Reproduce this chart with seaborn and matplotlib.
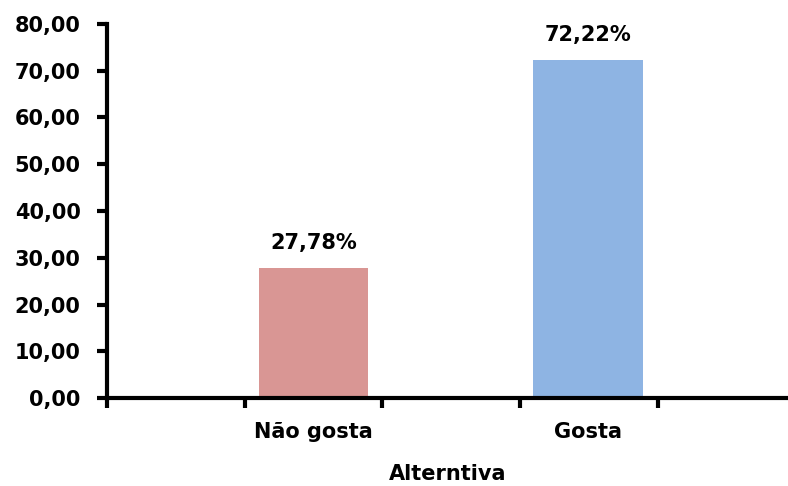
import matplotlib
matplotlib.use("Agg")
import matplotlib.pyplot as plt
import seaborn as sns
import pandas as pd

# Data.
categories = ["Não gosta", "Gosta"]
percentages = [27.78, 72.22]
bar_colors = ["#D99694", "#8EB4E3"]
y_ticks = [0, 10, 20, 30, 40, 50, 60, 70, 80]

sns.set_theme(style="white")
plt.rcParams["font.family"] = ["DejaVu Sans"]
plt.rcParams["font.weight"] = "bold"
plt.rcParams["text.color"] = "black"
plt.rcParams["axes.labelcolor"] = "black"
plt.rcParams["xtick.color"] = "black"
plt.rcParams["ytick.color"] = "black"

df = pd.DataFrame({"Alterntiva": categories, "valor": percentages})

fig = plt.figure(figsize=(7.88, 4.86), dpi=100)
ax = fig.add_axes([0.1358, 0.181, 0.8642, 0.7698])

sns.barplot(data=df, x="Alterntiva", y="valor", hue="Alterntiva",
            palette=bar_colors, order=categories, hue_order=categories,
            width=0.4, saturation=1, linewidth=0, legend=False, ax=ax)

# Value labels above bars.
for i, v in enumerate(percentages):
    ax.text(i, v + 3.3, f"{v:.2f}%".replace(".", ","), ha="center", va="bottom",
            fontsize=15, fontweight="bold", color="black")

ax.set_xlim(-0.753, 1.73)
ax.set_ylim(0, 80)
ax.set_yticks(y_ticks)
ax.set_yticklabels([f"{t:.2f}".replace(".", ",") for t in y_ticks],
                   fontsize=15, fontweight="bold")

# Category labels without marks; marks sit at slot boundaries.
ax.set_xticks([0, 1])
ax.set_xticklabels(categories, fontsize=15, fontweight="bold")
ax.set_xticks([-0.753, -0.25, 0.25, 0.753, 1.255], minor=True)
ax.tick_params(axis="x", which="major", bottom=True, length=0, pad=17)
ax.tick_params(axis="x", which="minor", bottom=True, length=7, width=3,
               direction="out", color="black")
ax.tick_params(axis="y", left=True, length=7, width=3, direction="out",
               color="black", pad=12)

ax.set_xlabel("Alterntiva", fontsize=15, fontweight="bold", labelpad=16)
ax.set_ylabel("")

for side in ["top", "right"]:
    ax.spines[side].set_visible(False)
for side in ["left", "bottom"]:
    ax.spines[side].set_linewidth(3)
    ax.spines[side].set_color("black")
ax.spines["left"].set_bounds(0, 80)

fig.savefig("out.png", dpi=100)
